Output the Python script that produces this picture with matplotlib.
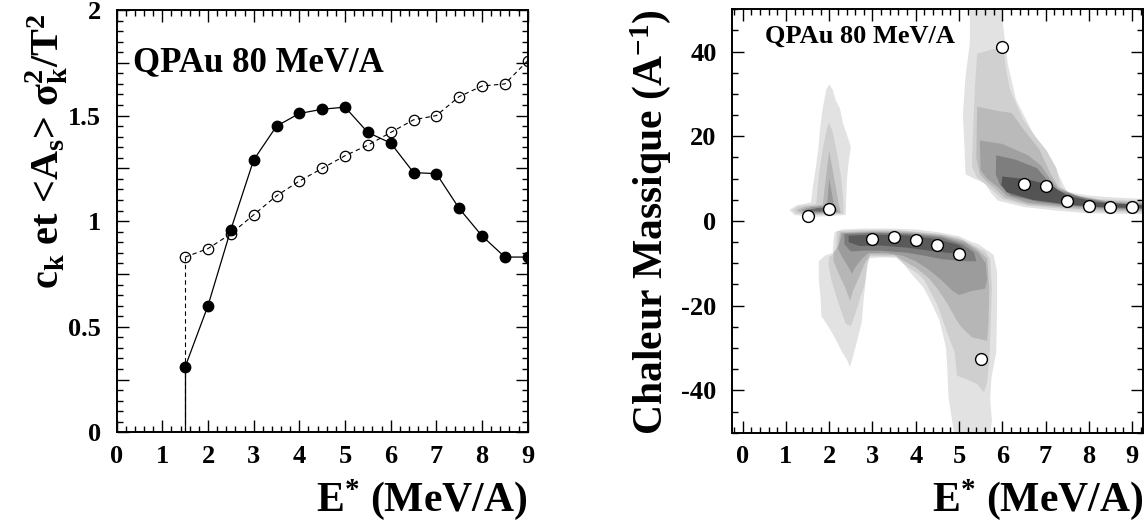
import matplotlib
matplotlib.use("Agg")
import matplotlib.pyplot as plt
from matplotlib.ticker import MultipleLocator, FuncFormatter

plt.rcParams["font.family"] = ["Liberation Serif", "DejaVu Serif"]
plt.rcParams["font.weight"] = "bold"
plt.rcParams["mathtext.fontset"] = "custom"
plt.rcParams["mathtext.rm"] = "Liberation Serif:bold"
plt.rcParams["mathtext.it"] = "Liberation Serif:bold"
plt.rcParams["mathtext.bf"] = "Liberation Serif:bold"
plt.rcParams["axes.unicode_minus"] = False

# ---- data ----
e_star = [1.5, 2.0, 2.5, 3.0, 3.5, 4.0, 4.5, 5.0, 5.5, 6.0, 6.5, 7.0, 7.5, 8.0, 8.5, 9.0]
ck = [0.31, 0.60, 0.96, 1.29, 1.45, 1.51, 1.53, 1.54, 1.42, 1.37, 1.23, 1.225, 1.06, 0.93, 0.83, 0.83]
as_sigma = [0.83, 0.87, 0.94, 1.03, 1.12, 1.19, 1.25, 1.31, 1.36, 1.42, 1.48, 1.50, 1.59, 1.64, 1.65, 1.76]
chaleur = [1.2, 2.8, None, -4.3, -3.9, -4.4, -5.7, -7.7, -32.6, 41.2, 8.8, 8.3, 4.7, 3.6, 3.2, 3.2]

# contour bands of the right panel: (gray level, polygon vertices)
blob_a = [
    ("#e2e2e2", [(1.08, 2.6), (1.25, 3.7), (1.58, 4.4), (1.62, 8), (1.68, 12), (1.75, 17), (1.78, 21), (1.84, 26),
                 (1.93, 31), (2.0, 32.3), (2.08, 31), (2.15, 28.5), (2.25, 26.5), (2.32, 23), (2.42, 20), (2.5, 17.5),
                 (2.45, 14), (2.41, 10), (2.39, 4.2), (2.38, 1.4), (1.7, 1.0), (1.2, 1.4)]),
    ("#cfcfcf", [(1.15, 2.6), (1.3, 3.5), (1.7, 4.0), (1.75, 10), (1.85, 17), (1.95, 22), (2.0, 23.3), (2.08, 21),
                 (2.2, 15), (2.28, 10), (2.33, 4.0), (2.33, 1.7), (1.7, 1.4), (1.25, 1.7)]),
    ("#b5b5b5", [(1.25, 2.6), (1.45, 3.4), (1.85, 3.8), (1.92, 10), (2.0, 16.5), (2.08, 12), (2.17, 7), (2.22, 3.8),
                 (2.27, 1.9), (1.7, 1.6), (1.35, 1.9)]),
    ("#999999", [(1.35, 2.6), (1.6, 3.3), (1.95, 3.6), (2.0, 10), (2.07, 6), (2.12, 3.5), (2.22, 2.1), (1.7, 1.9),
                 (1.45, 2.1)]),
    ("#6a6a6a", [(1.5, 2.6), (1.75, 3.1), (2.1, 3.2), (2.18, 2.7), (1.8, 2.2), (1.55, 2.3)]),
]
blob_b = [
    ("#e2e2e2", [(2.13, -2.6), (2.3, -2.0), (2.8, -1.8), (3.4, -1.8), (4.0, -2.0), (4.55, -2.7), (5.0, -3.6),
                 (5.3, -5.0), (5.45, -5.5), (5.8, -8.0), (5.88, -12), (5.88, -20), (5.86, -31), (5.75, -37),
                 (5.72, -42), (5.76, -47), (5.72, -51), (4.9, -51), (4.84, -47), (4.76, -42), (4.73, -35),
                 (4.7, -30), (4.55, -23.5), (4.3, -18), (4.17, -15.6), (3.9, -12.5), (3.75, -10.5), (3.55, -8.7),
                 (3.2, -8.6), (2.92, -8.8), (2.88, -11), (2.8, -18), (2.75, -24), (2.65, -28), (2.55, -32),
                 (2.48, -34.5), (2.42, -33), (2.3, -31), (2.1, -27), (1.95, -24.5), (1.82, -22.5), (1.8, -18),
                 (1.76, -14), (1.76, -9.5), (1.9, -8.2), (2.08, -7.5), (2.1, -4.5)]),
    ("#cfcfcf", [(2.18, -2.4), (2.8, -2.1), (3.5, -2.1), (4.5, -3.0), (5.0, -4.0), (5.3, -5.6), (5.6, -7.2),
                 (5.72, -9), (5.76, -16), (5.73, -25), (5.7, -33), (5.65, -38), (5.58, -40.5), (5.42, -38.5),
                 (5.2, -37.5), (4.95, -36.5), (4.9, -31), (4.75, -27), (4.5, -19.8), (4.2, -14), (4.05, -12.4),
                 (3.8, -10.8), (3.55, -8.4), (2.95, -8.3), (2.88, -10), (2.82, -15), (2.72, -18), (2.6, -22),
                 (2.5, -24.8), (2.38, -24.3), (2.2, -19), (2.05, -14), (1.98, -10.2), (2.0, -8.5), (2.15, -7.5)]),
    ("#b6b6b6", [(2.25, -2.7), (3.0, -2.4), (3.8, -2.5), (4.6, -3.3), (5.1, -4.6), (5.4, -6.5), (5.65, -8.8),
                 (5.7, -16), (5.68, -24), (5.65, -28.3), (5.3, -27.5), (5.05, -25), (4.95, -23.5), (4.7, -19),
                 (4.5, -16), (4.3, -13.5), (4.0, -11), (3.7, -9.3), (3.5, -8.0), (2.95, -7.9), (2.82, -10),
                 (2.7, -13), (2.55, -16.5), (2.48, -18.8), (2.38, -16), (2.2, -12), (2.1, -9.5), (2.1, -7.5),
                 (2.2, -6)]),
    ("#9c9c9c", [(2.3, -2.9), (3.0, -2.6), (3.8, -2.8), (4.6, -3.6), (5.15, -5.2), (5.45, -7.5), (5.62, -10),
                 (5.65, -14), (5.6, -16), (5.3, -16.5), (5.0, -17.5), (4.85, -16.5), (4.6, -14), (4.3, -11.5),
                 (4.0, -9.5), (3.7, -8.2), (3.3, -7.5), (2.9, -7.6), (2.75, -9), (2.6, -11), (2.52, -12.5),
                 (2.45, -11), (2.3, -8.5), (2.2, -6.5)]),
    ("#7c7c7c", [(2.35, -3.1), (3.0, -2.8), (3.8, -3.0), (4.6, -3.9), (5.1, -5.6), (5.35, -7.5), (5.4, -9.5),
                 (5.1, -9.5), (4.6, -9.0), (4.2, -8.2), (3.8, -7.5), (3.2, -7.0), (2.8, -7.0), (2.5, -7.2),
                 (2.35, -5.5)]),
    ("#5a5a5a", [(2.45, -3.5), (3.0, -3.2), (3.8, -3.4), (4.5, -4.3), (5.0, -5.7), (5.15, -7.0), (4.8, -7.6),
                 (4.3, -7.0), (3.8, -6.3), (3.2, -5.8), (2.7, -5.9), (2.45, -5.0)]),
]
blob_c = [
    ("#e2e2e2", [(5.25, 51), (5.25, 42), (5.15, 34), (5.09, 25), (5.13, 17), (5.15, 11), (5.4, 9.8), (5.6, 8.8),
                 (5.75, 6.5), (5.9, 4.8), (6.5, 3.3), (7.2, 2.5), (8.0, 1.8), (9.3, 1.6), (9.3, 5.2), (8.5, 5.6),
                 (8.0, 6.0), (7.5, 6.9), (7.4, 8.8), (7.17, 14), (6.79, 19), (6.55, 24), (6.32, 28.6), (6.13, 37),
                 (6.01, 47), (6.0, 51)]),
    ("#d0d0d0", [(5.42, 39.5), (5.75, 40.5), (6.02, 41), (6.1, 35), (6.18, 31), (6.48, 24), (6.8, 19.5),
                 (7.02, 16.7), (7.25, 12.5), (7.35, 8), (7.6, 6.3), (8.2, 5.2), (9.3, 4.7), (9.3, 2.0), (8.2, 2.2),
                 (7.5, 2.8), (6.6, 3.6), (6.0, 5.2), (5.8, 7.0), (5.6, 8.8), (5.4, 10.5), (5.3, 13), (5.32, 20),
                 (5.37, 32)]),
    ("#bababa", [(5.42, 27), (5.9, 26), (6.22, 25.5), (6.5, 21.5), (6.85, 17), (7.1, 11.5), (7.3, 8.0), (7.7, 6.0),
                 (8.3, 4.9), (9.3, 4.4), (9.3, 2.3), (8.3, 2.5), (7.5, 3.1), (6.6, 3.9), (6.05, 5.5), (5.85, 7.5),
                 (5.65, 9.2), (5.48, 11), (5.4, 15)]),
    ("#a0a0a0", [(5.48, 19), (6.0, 18.2), (6.6, 15.5), (6.9, 13), (7.1, 10), (7.3, 7.6), (7.8, 5.7), (8.5, 4.5),
                 (9.3, 4.1), (9.3, 2.6), (8.4, 2.8), (7.5, 3.4), (6.6, 4.3), (6.1, 6.0), (5.9, 8.0), (5.65, 10),
                 (5.5, 12)]),
    ("#7e7e7e", [(5.86, 15.5), (6.3, 14.5), (6.8, 12.5), (7.05, 9.5), (7.3, 7.2), (7.9, 5.4), (8.5, 4.2),
                 (9.3, 3.9), (9.3, 2.8), (8.5, 3.0), (7.6, 3.6), (6.8, 4.6), (6.2, 6.0), (5.95, 8.5), (5.85, 11)]),
    ("#545454", [(6.0, 10.5), (6.6, 9.8), (7.1, 8.5), (7.5, 6.0), (8.2, 4.4), (9.3, 3.7), (9.3, 3.0), (8.2, 3.3),
                 (7.5, 3.9), (6.7, 5.0), (6.1, 6.8), (5.98, 8.5)]),
]

title = "QPAu 80 MeV/A"
xlabel = r"E$^{\mathregular{*}}$ (MeV/A)"
ylabel_left = r"c$_{\mathregular{k}}$ et <A$_{\mathregular{s}}$> $\mathregular{\sigma_k^2}$/T$^{\mathregular{2}}$"
ylabel_right = r"Chaleur Massique (A$^{\mathregular{-1}}$)"

fig = plt.figure(figsize=(11.47, 5.21), dpi=100)
ax1 = fig.add_axes([0.1017, 0.1702, 0.3584, 0.8106])
ax2 = fig.add_axes([0.6381, 0.1695, 0.3583, 0.8127])


def style_axes(ax):
    for sp in ax.spines.values():
        sp.set_linewidth(1.4)
    ax.tick_params(which="both", direction="in", top=True, right=True, width=1.0, labelsize=19, colors="black")
    ax.tick_params(which="major", length=8.6)
    ax.tick_params(which="minor", length=4.3)
    ax.xaxis.set_major_locator(MultipleLocator(1))
    ax.xaxis.set_minor_locator(MultipleLocator(0.2))
    ax.tick_params(axis="x", pad=9)
    ax.tick_params(axis="y", pad=11)


# ---- left panel ----
style_axes(ax1)
ax1.set_xlim(0, 9)
ax1.set_ylim(0, 2)
ax1.yaxis.set_major_locator(MultipleLocator(0.25))
ax1.yaxis.set_minor_locator(MultipleLocator(0.05))
ax1.yaxis.set_major_formatter(FuncFormatter(lambda v, p: "%g" % v if abs(v * 2 - round(v * 2)) < 1e-6 else ""))

ax1.plot(e_star, as_sigma, color="black", lw=0.8, ls=(0, (4, 3)), marker="o", ms=7.5, mfc="none",
         mec="black", mew=0.9, zorder=3)
ax1.plot([e_star[0], e_star[0]], [0, as_sigma[0]], color="black", lw=0.8, ls=(0, (4, 3)))
ax1.plot(e_star, ck, color="black", lw=0.9, marker="o", ms=7.5, mfc="black", mec="black", zorder=4)
ax1.plot([e_star[0], e_star[0]], [0, ck[0]], color="black", lw=0.9)

ax1.text(0.039, 0.854, title, transform=ax1.transAxes, fontsize=25, ha="left", va="baseline")
ax1.text(-0.142, 0.993, ylabel_left, transform=ax1.transAxes, fontsize=29, rotation=90,
         rotation_mode="anchor", ha="right", va="baseline")
ax1.text(1.0, -0.186, xlabel, transform=ax1.transAxes, fontsize=30, ha="right", va="baseline")

# ---- right panel ----
style_axes(ax2)
ax2.set_xlim(-0.25, 9.25)
ax2.set_ylim(-50, 50)
ax2.yaxis.set_major_locator(MultipleLocator(20))
ax2.yaxis.set_minor_locator(MultipleLocator(5))

for blob in (blob_a, blob_b, blob_c):
    for color, poly in blob:
        xs = [p[0] for p in poly]
        ys = [p[1] for p in poly]
        ax2.fill(xs, ys, color=color, lw=0, zorder=1)

pts = [(x, y) for x, y in zip(e_star, chaleur) if y is not None]
ax2.plot([p[0] for p in pts], [p[1] for p in pts], ls="none", marker="o", ms=8.5, mfc="white",
         mec="black", mew=1.0, zorder=5, clip_on=False)

ax2.text(0.08, 0.92, title, transform=ax2.transAxes, fontsize=19, ha="left", va="baseline")
ax2.text(-0.170, 1.0, ylabel_right, transform=ax2.transAxes, fontsize=30, rotation=90,
         rotation_mode="anchor", ha="right", va="baseline")
ax2.text(1.0, -0.186, xlabel, transform=ax2.transAxes, fontsize=30, ha="right", va="baseline")

fig.savefig("out.png", dpi=100)
